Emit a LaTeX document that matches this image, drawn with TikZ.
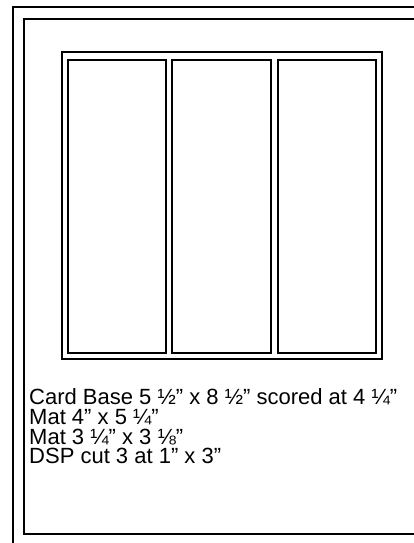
\documentclass[tikz,border=0pt]{standalone}
\usepackage{fontspec}
\setmainfont{Liberation Sans}
\newcommand\cardnotesfont{\fontsize{22}{19.9}\selectfont\lineskiplimit=-100pt\relax\lineskip=0pt\relax}
\begin{document}
\begin{tikzpicture}[x=1pt,y=-1pt,
  frameline/.style={draw=black,line width=2pt},
  notes/.style={anchor=base west,inner sep=0pt,align=left,font=\cardnotesfont}]
\useasboundingbox (0,0) rectangle (414,543);
\clip (0,0) rectangle (414,543);
\fill[white] (0,0) rectangle (414,543);
% card base and mat
\draw[frameline] (13,7) rectangle (430,560);
\draw[frameline] (24.3,19.3) rectangle (420,534);
% mat with three DSP strips
\draw[frameline] (61.7,52) rectangle (381.7,359.3);
\draw[frameline] (67.7,59.7) rectangle (165.7,352.7);
\draw[frameline] (172.3,59.7) rectangle (271,352.7);
\draw[frameline] (277.7,59.7) rectangle (375.7,352.7);
\node[notes] (txt) at (29,463.9) {Card Base 5 ½” x 8 ½” scored at 4 ¼”\\
Mat 4” x 5 ¼”\\
Mat 3 ¼” x 3 ⅛”\\
DSP cut 3 at 1” x 3”};
\end{tikzpicture}
\end{document}
